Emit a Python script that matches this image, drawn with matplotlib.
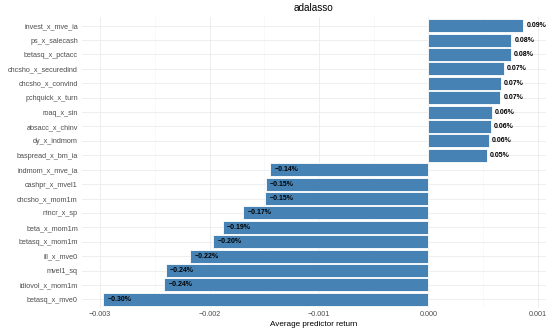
import matplotlib
matplotlib.use('Agg')
import matplotlib.pyplot as plt
import numpy as np

plt.rcParams['font.family'] = ['Liberation Sans', 'DejaVu Sans']

# predictors, top to bottom
names = ['invest_x_mve_ia', 'ps_x_salecash', 'betasq_x_pctacc', 'chcsho_x_securedind',
         'chcsho_x_convind', 'pchquick_x_turn', 'roaq_x_sin', 'absacc_x_chinv',
         'dy_x_indmom', 'baspread_x_bm_ia', 'indmom_x_mve_ia', 'cashpr_x_mvel1',
         'chcsho_x_mom1m', 'nincr_x_sp', 'beta_x_mom1m', 'betasq_x_mom1m',
         'ill_x_mve0', 'mvel1_sq', 'idiovol_x_mom1m', 'betasq_x_mve0']
returns = [0.000866, 0.000756, 0.000755, 0.00069, 0.000662, 0.000659, 0.00058, 0.000573,
           0.000552, 0.000535, -0.001445, -0.001486, -0.001493, -0.001694, -0.00188,
           -0.001965, -0.002175, -0.0024, -0.002413, -0.00297]

fig = plt.figure(figsize=(5.48, 3.32), dpi=100)
ax = fig.add_axes([0.1496, 0.0723, 0.8467, 0.8765])

y = np.arange(len(names))[::-1]
ax.barh(y, returns, height=0.9, color='#4682B4', edgecolor='white', linewidth=0.6, zorder=3)

for yi, v in zip(y, returns):
    lab = '%.2f%%' % (v * 100)
    lab = lab.replace('-', '\u2212')
    ax.text(v + 0.00003 if v >= 0 else v + 0.00004, yi, lab, ha='left', va='center',
            fontsize=5.0, fontweight='bold', color='black', zorder=4)

ax.set_yticks(y)
ax.set_yticklabels(names)
ax.set_ylim(-0.6, len(names) - 0.4)
ax.set_xlim(-0.003166, 0.001076)
major = [-0.003, -0.002, -0.001, 0.0, 0.001]
ax.set_xticks(major)
ax.set_xticklabels(['\u22120.003', '\u22120.002', '\u22120.001', '0.000', '0.001'])
ax.set_xticks([-0.0025, -0.0015, -0.0005, 0.0005], minor=True)

ax.grid(True, which='major', color='#ebebeb', linewidth=0.6, zorder=0)
ax.grid(True, which='minor', axis='x', color='#f4f4f4', linewidth=0.4, zorder=0)
for s in ax.spines.values():
    s.set_visible(False)
ax.tick_params(axis='both', which='both', length=0, labelsize=5.2, labelcolor='#4d4d4d')
ax.tick_params(axis='y', pad=3)
ax.tick_params(axis='x', pad=2.5)

ax.set_xlabel('Average predictor return', fontsize=5.9, color='black', labelpad=2)
ax.set_title('adalasso', fontsize=7.2, color='black', pad=4)

fig.savefig('out.png', dpi=100)
